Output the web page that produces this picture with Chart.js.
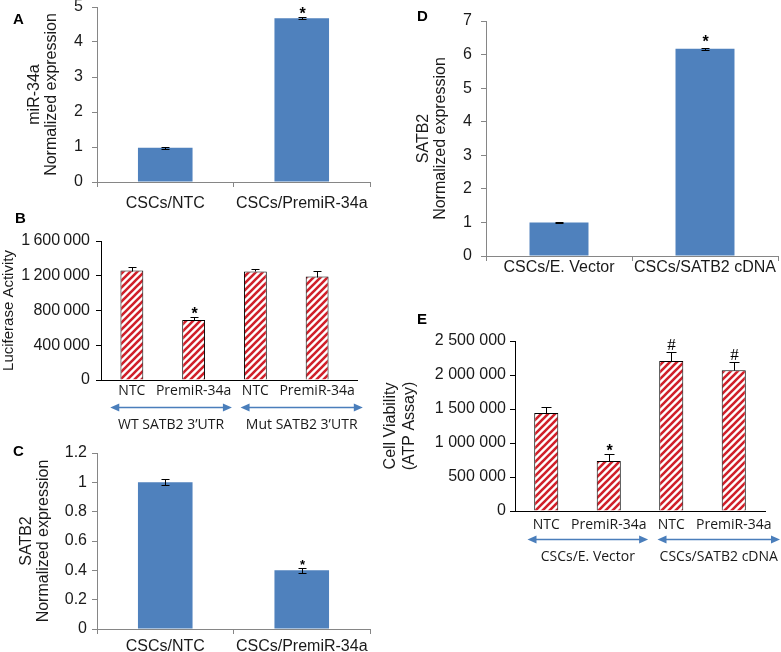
<!DOCTYPE html>
<html>
<head>
<meta charset="utf-8">
<script src="https://cdn.jsdelivr.net/npm/chart.js@4.4.0/dist/chart.umd.min.js"></script>
<style>
body { margin: 0; background: #fff; }
#fig { position: relative; width: 781px; height: 652px; overflow: hidden; background: #fff; }
#fig canvas { position: absolute; }
.lbl { position: absolute; font: bold 15px "Liberation Sans", Arial, sans-serif; line-height: 15px; color: #000; }
</style>
</head>
<body>
<div id="fig">
  <canvas id="chartA"></canvas>
  <canvas id="chartB"></canvas>
  <canvas id="chartC"></canvas>
  <canvas id="chartD"></canvas>
  <canvas id="chartE"></canvas>
  <div class="lbl" style="left:13px;top:11px">A</div>
  <div class="lbl" style="left:15px;top:210px">B</div>
  <div class="lbl" style="left:13px;top:443px">C</div>
  <div class="lbl" style="left:417px;top:8px">D</div>
  <div class="lbl" style="left:417px;top:311px">E</div>
</div>
<script>
// ---- data ----
// A: miR-34a expression
const catsA = ['CSCs/NTC', 'CSCs/PremiR-34a'];
const valsA = [0.98, 4.68];
const errA = [0.03, 0.03];
const marksA = ['', '*'];
const ticksA = [0, 1, 2, 3, 4, 5];

// B: luciferase activity
const catsB = ['NTC', 'PremiR-34a', 'NTC', 'PremiR-34a'];
const valsB = [1260000, 690000, 1250000, 1190000];
const errB = [45000, 35000, 27000, 70000];
const marksB = ['', '*', '', ''];
const ticksB = [0, 400000, 800000, 1200000, 1600000];
const groupsB = ['WT SATB2 3\u2019UTR', 'Mut SATB2 3\u2019UTR'];

// C: SATB2 expression after PremiR-34a
const catsC = ['CSCs/NTC', 'CSCs/PremiR-34a'];
const valsC = [1.0, 0.40];
const errC = [0.02, 0.015];
const marksC = ['', '*'];
const ticksC = [0, 0.2, 0.4, 0.6, 0.8, 1, 1.2];

// D: SATB2 expression after cDNA
const catsD = ['CSCs/E. Vector', 'CSCs/SATB2 cDNA'];
const valsD = [1.0, 6.17];
const errD = [0.01, 0.03];
const marksD = ['', '*'];
const ticksD = [0, 1, 2, 3, 4, 5, 6, 7];

// E: cell viability
const catsE = ['NTC', 'PremiR-34a', 'NTC', 'PremiR-34a'];
const valsE = [1440000, 735000, 2205000, 2070000];
const errE = [90000, 100000, 130000, 120000];
const marksE = ['', '*', '#', '#'];
const ticksE = [0, 500000, 1000000, 1500000, 2000000, 2500000];
const groupsE = ['CSCs/E. Vector', 'CSCs/SATB2 cDNA'];

// ---- styles ----
const BLUE = '#4f81bd';
const GREY = '#868686';
const TEXT = '#1a1a1a';
const ARROW = '#4a7ebb';
const sans = '"Liberation Sans", Arial, sans-serif';
const calib = '"Open Sans", sans-serif';

function hatch() {
    const s = 7;
    const c = document.createElement('canvas');
    c.width = s; c.height = s;
    const g = c.getContext('2d');
    g.fillStyle = '#fff';
    g.fillRect(0, 0, s, s);
    g.strokeStyle = '#d0202a';
    g.lineWidth = 2.6;
    g.beginPath();
    g.moveTo(-1, s + 1); g.lineTo(s + 1, -1);
    g.moveTo(-1, 1); g.lineTo(1, -1);
    g.moveTo(s - 1, s + 1); g.lineTo(s + 1, s - 1);
    g.stroke();
    return g.createPattern(c, 'repeat');
}

// thousands separated by a space (thin one for panel B, as in the figure)
const spaced = v => String(v).replace(/\B(?=(\d{3})+(?!\d))/g, ' ');
const thin = v => String(v).replace(/\B(?=(\d{3})+(?!\d))/g, '\u2009');

// error bars, significance marks, group arrows
const extras = {
    id: 'extras',
    afterDatasetsDraw(chart, args, o) {
        const ctx = chart.ctx;
        const xs = chart.scales.x, ys = chart.scales.y;
        const vals = chart.data.datasets[0].data;
        const meta = chart.getDatasetMeta(0);
        ctx.save();
        ctx.strokeStyle = '#000';
        ctx.lineWidth = 1;
        if (o.axisExt) {
            const ly = Math.round(xs.top) + 0.5;
            ctx.beginPath();
            ctx.moveTo(xs.right, ly); ctx.lineTo(xs.right + o.axisExt, ly);
            ctx.stroke();
        }
        meta.data.forEach((bar, i) => {
            const cx = Math.round(bar.x) + 0.5;
            const top = Math.round(ys.getPixelForValue(vals[i] + o.err[i])) + 0.5;
            const bot = Math.round(ys.getPixelForValue(o.upOnly ? vals[i] : vals[i] - o.err[i])) + 0.5;
            ctx.strokeStyle = '#000';
            ctx.lineWidth = 1;
            ctx.beginPath();
            ctx.moveTo(cx, top); ctx.lineTo(cx, bot);
            ctx.moveTo(cx - o.cap, top); ctx.lineTo(cx + o.cap, top);
            if (!o.upOnly) { ctx.moveTo(cx - o.cap, bot); ctx.lineTo(cx + o.cap, bot); }
            ctx.stroke();
            const m = o.marks[i];
            if (m) {
                ctx.fillStyle = '#000';
                ctx.textAlign = 'center';
                ctx.textBaseline = 'alphabetic';
                if (m === '#') {
                    ctx.font = '17px "Liberation Serif", serif';
                    ctx.fillText(m, cx, top - 3);
                } else {
                    ctx.font = 'bold ' + o.starSize + 'px ' + sans;
                    ctx.fillText(m, cx, top + o.starOff);
                }
            }
        });
        if (o.groups) {
            const c0 = xs.getPixelForValue(0);
            const cw = xs.getPixelForValue(1) - c0;
            const ay = Math.round(xs.top + o.arrowY) + 0.5;
            o.groups.forEach((g, k) => {
                const [f, t] = o.spans[k];
                const x1 = c0 + f * cw, x2 = c0 + t * cw;
                ctx.strokeStyle = ARROW;
                ctx.fillStyle = ARROW;
                ctx.lineWidth = 1.5;
                ctx.beginPath();
                ctx.moveTo(x1 + 4, ay); ctx.lineTo(x2 - 4, ay);
                ctx.stroke();
                ctx.beginPath();
                ctx.moveTo(x1, ay); ctx.lineTo(x1 + 9, ay - 4); ctx.lineTo(x1 + 9, ay + 4); ctx.closePath();
                ctx.moveTo(x2, ay); ctx.lineTo(x2 - 9, ay - 4); ctx.lineTo(x2 - 9, ay + 4); ctx.closePath();
                ctx.fill();
                ctx.fillStyle = TEXT;
                ctx.font = '14px ' + calib;
                ctx.textAlign = 'center';
                ctx.textBaseline = 'middle';
                ctx.fillText(g, (x1 + x2) / 2, ay + o.labelY);
            });
        }
        ctx.restore();
    }
};

function panel(id, box, area, p) {
    const cv = document.getElementById(id);
    cv.width = box.w; cv.height = box.h;
    cv.style.left = box.x + 'px';
    cv.style.top = box.y + 'px';
    cv.style.width = box.w + 'px';
    cv.style.height = box.h + 'px';
    const yw = area.l - box.x;
    const xh = box.y + box.h - area.b;
    const axis = p.hatched ? '#000' : GREY;
    return new Chart(cv, {
        type: 'bar',
        data: {
            labels: p.cats,
            datasets: [{
                data: p.vals,
                backgroundColor: p.hatched ? hatch() : BLUE,
                borderColor: '#000',
                borderWidth: p.hatched ? 1 : 0,
                barPercentage: p.bar,
                categoryPercentage: 1
            }]
        },
        options: {
            responsive: false,
            animation: false,
            devicePixelRatio: 1,
            layout: { padding: { left: 0, top: area.t - box.y, right: box.x + box.w - area.r, bottom: 0 } },
            plugins: {
                legend: { display: false },
                tooltip: { enabled: false },
                extras: p.extras
            },
            scales: {
                x: {
                    grid: { display: !p.hatched, drawOnChartArea: false, drawTicks: !p.hatched, tickLength: 5, color: GREY },
                    border: { display: true, color: axis },
                    ticks: { color: TEXT, font: p.xFont, padding: p.xPad, maxRotation: 0, autoSkip: false },
                    afterFit: s => { s.height = xh; }
                },
                y: {
                    min: p.ticks[0],
                    max: p.ticks[p.ticks.length - 1],
                    afterBuildTicks: s => { s.ticks = p.ticks.map(v => ({ value: v })); },
                    grid: { drawOnChartArea: false, tickLength: 5, color: axis },
                    border: { display: true, color: axis },
                    ticks: { color: TEXT, font: { family: sans, size: 16 }, padding: p.yPad, callback: p.fmt },
                    title: { display: true, text: p.title, color: TEXT, font: p.tFont, padding: { top: p.tPad, bottom: 0 } },
                    afterFit: s => { s.width = yw; }
                }
            }
        },
        plugins: [extras]
    });
}

const bigFont = { family: sans, size: 16 };
const smallFont = { family: calib, size: 14 };

panel('chartA', { x: 0, y: -20, w: 390, h: 235 }, { l: 97, t: 7, r: 370, b: 182 }, {
    cats: catsA, vals: valsA, ticks: ticksA, bar: 0.4, hatched: false,
    xFont: bigFont, xPad: 7, yPad: 9, fmt: v => v,
    title: ['miR-34a', 'Normalized expression'], tFont: { family: sans, size: 16, lineHeight: 1.06 }, tPad: 26,
    extras: { err: errA, marks: marksA, upOnly: false, cap: 4, starSize: 16, starOff: 1 }
});

panel('chartB', { x: -30, y: 215, w: 420, h: 225 }, { l: 101, t: 241, r: 348, b: 380 }, {
    cats: catsB, vals: valsB, ticks: ticksB, bar: 0.37, hatched: true,
    xFont: smallFont, xPad: 3, yPad: 6, fmt: thin,
    title: 'Luciferase Activity', tFont: { family: sans, size: 15, lineHeight: 1.13 }, tPad: 30,
    extras: { err: errB, marks: marksB, upOnly: true, cap: 4, starSize: 16, starOff: 1, axisExt: 10,
              groups: groupsB, spans: [[-0.35, 1.62], [1.76, 3.74]], arrowY: 27, labelY: 18 }
});

panel('chartC', { x: 0, y: 430, w: 390, h: 230 }, { l: 97, t: 453, r: 370, b: 629 }, {
    cats: catsC, vals: valsC, ticks: ticksC, bar: 0.4, hatched: false,
    xFont: bigFont, xPad: 3, yPad: 5, fmt: v => v,
    title: ['SATB2', 'Normalized expression'], tFont: { family: sans, size: 16, lineHeight: 1.06 }, tPad: 18,
    extras: { err: errC, marks: marksC, upOnly: false, cap: 4, starSize: 13, starOff: 0 }
});

panel('chartD', { x: 390, y: -10, w: 391, h: 300 }, { l: 486, t: 21, r: 778, b: 256 }, {
    cats: catsD, vals: valsD, ticks: ticksD, bar: 0.404, hatched: false,
    xFont: bigFont, xPad: -3, yPad: 9, fmt: v => v,
    title: ['SATB2', 'Normalized expression'], tFont: { family: sans, size: 16, lineHeight: 1.06 }, tPad: 25,
    extras: { err: errD, marks: marksD, upOnly: false, cap: 4, starSize: 16, starOff: -2 }
});

panel('chartE', { x: 375, y: 300, w: 406, h: 280 }, { l: 515, t: 341, r: 765, b: 511 }, {
    cats: catsE, vals: valsE, ticks: ticksE, bar: 0.385, hatched: true,
    xFont: smallFont, xPad: 6, yPad: 4, fmt: spaced,
    title: ['Cell Viability', '(ATP Assay)'], tFont: { family: sans, size: 16, lineHeight: 1.2 }, tPad: 6,
    extras: { err: errE, marks: marksE, upOnly: true, cap: 5, starSize: 16, starOff: 1,
              groups: groupsE, spans: [[-0.3, 1.63], [1.78, 3.74]], arrowY: 28, labelY: 18 }
});
</script>
</body>
</html>
